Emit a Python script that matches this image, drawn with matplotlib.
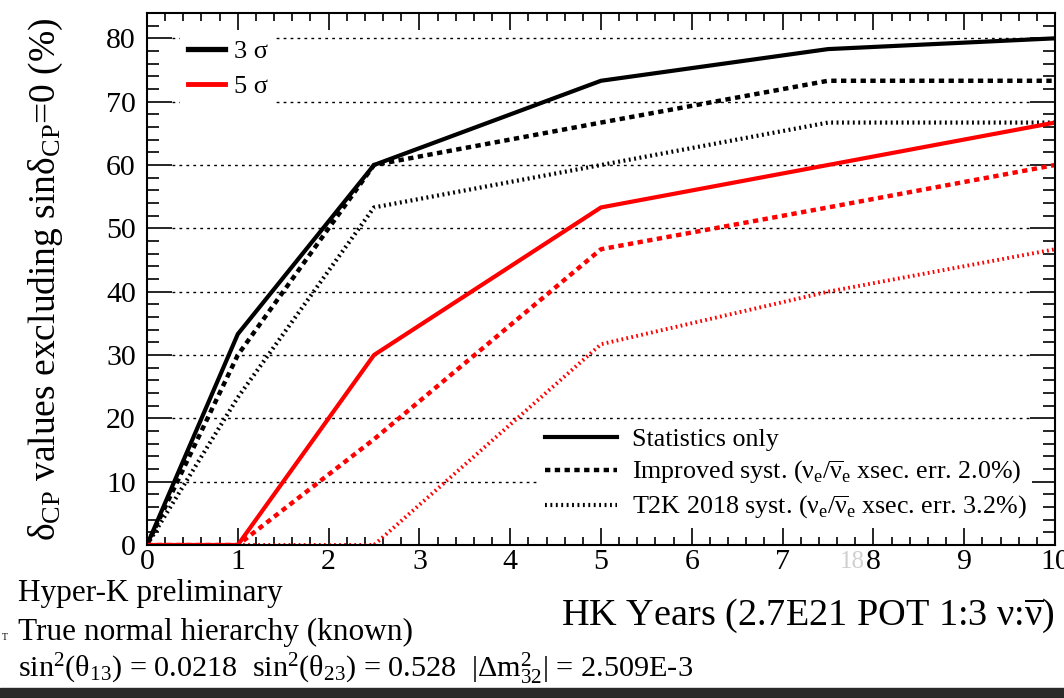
import matplotlib
matplotlib.use("Agg")
import numpy as np
import matplotlib.pyplot as plt
from matplotlib.lines import Line2D
from matplotlib.patches import Rectangle
from matplotlib.ticker import MultipleLocator

plt.rcParams['font.family'] = ['Liberation Serif', 'DejaVu Serif']
plt.rcParams['mathtext.fontset'] = 'custom'
plt.rcParams['mathtext.rm'] = 'Liberation Serif'
plt.rcParams['mathtext.it'] = 'Liberation Serif'
plt.rcParams['mathtext.default'] = 'regular'

# HK exposure in years
years = [0, 1, 2.5, 5, 7.5, 10]

# fraction of delta_CP values excluding sin(delta_CP)=0 (%)
sig3_stat = [0, 33.3, 60.0, 73.3, 78.3, 80.0]
sig3_improved = [0, 30.0, 60.0, 66.7, 73.3, 73.3]
sig3_t2k = [0, 23.3, 53.3, 60.0, 66.7, 66.7]
sig5_stat = [0, 0, 30.0, 53.3, 60.0, 66.7]
sig5_improved = [0, 0, 16.7, 46.7, 53.3, 60.0]
sig5_t2k = [0, 0, 0, 31.7, 40.0, 46.7]

fig = plt.figure(figsize=(10.64, 6.98), dpi=100)
ax = fig.add_axes([147/1064, 1 - 545/698, (1055 - 147)/1064, (545 - 13)/698])

dash = (0, (1.2, 1.0))
dot = (0, (0.45, 0.85))

ax.plot(years, sig3_stat, color='black', lw=3.0)
ax.plot(years, sig3_improved, color='black', lw=3.2, linestyle=dash)
ax.plot(years, sig3_t2k, color='black', lw=3.0, linestyle=dot)
ax.plot(years, sig5_stat, color='red', lw=3.0)
ax.plot(years, sig5_improved, color='red', lw=3.2, linestyle=dash)
ax.plot(years, sig5_t2k, color='red', lw=2.8, linestyle=dot)

ax.set_xlim(0, 10)
ax.set_ylim(0, 84)
ax.xaxis.set_major_locator(MultipleLocator(1))
ax.xaxis.set_minor_locator(MultipleLocator(0.2))
ax.yaxis.set_major_locator(MultipleLocator(10))
ax.yaxis.set_minor_locator(MultipleLocator(2))
ax.tick_params(axis='both', which='both', direction='in', top=True, right=True,
               labelsize=21.5, width=1.2)
ax.tick_params(axis='x', which='major', length=12, pad=3)
ax.tick_params(axis='x', which='minor', length=6)
ax.tick_params(axis='y', which='major', length=18, pad=8)
ax.tick_params(axis='y', which='minor', length=8.5)
for sp in ax.spines.values():
    sp.set_linewidth(1.5)

# dotted grid between the major ticks
ax.hlines(np.arange(10, 81, 10), 0.28, 9.72, color='black',
          linestyle=(0, (2, 3)), lw=1.0, zorder=0.5)

ax.set_ylabel(r'$\delta_{CP}$ values excluding sin$\delta_{CP}$=0 (%)', fontsize=27)
ax.yaxis.set_label_coords(-0.09, 0.5)
ax.set_xlabel(r'HK Years (2.7E21 POT 1:3 ν:$\overline{ν}$)', fontsize=27.5, ha='right')
ax.xaxis.set_label_coords(1.0, -0.097)

sig_handles = [Line2D([], [], color='black', lw=3.8), Line2D([], [], color='red', lw=3.5)]
leg1 = ax.legend(sig_handles, ['3 σ', '5 σ'], loc='upper left',
                 bbox_to_anchor=(0.036, 0.965), fontsize=19, frameon=True,
                 handlelength=1.4, handletextpad=0.35, labelspacing=0.45,
                 borderpad=0.3, borderaxespad=0, fancybox=False)
leg1.get_frame().set_edgecolor('none')
leg1.get_frame().set_facecolor('white')
leg1.get_frame().set_alpha(1)
ax.add_artist(leg1)

syst_handles = [Line2D([], [], color='black', lw=3.0),
                Line2D([], [], color='black', lw=3.2, linestyle=dash),
                Line2D([], [], color='black', lw=3.0, linestyle=dot)]
syst_labels = ['Statistics only',
               r'Improved syst. ($ν_{e}$/$\overline{ν}_{e}$ xsec. err. 2.0%)',
               r'T2K 2018 syst. ($ν_{e}$/$\overline{ν}_{e}$ xsec. err. 3.2%)']
leg2 = ax.legend(syst_handles, syst_labels, loc='lower right',
                 bbox_to_anchor=(0.975, 0.035), fontsize=18.7, frameon=True,
                 handlelength=2.75, handletextpad=0.6, labelspacing=0.3,
                 borderpad=0.2, borderaxespad=0, fancybox=False)
leg2.get_frame().set_edgecolor('none')
leg2.get_frame().set_facecolor('white')
leg2.get_frame().set_alpha(1)

# annotation text below the axes
fig.text(18/1064, 1 - 593/698, 'Hyper-K preliminary', fontsize=22.5, va='center')
fig.text(18/1064, 1 - 632/698, 'True normal hierarchy (known)', fontsize=22.5, va='center')
fig.text(18/1064, 1 - 668/698,
         r'sin$^2$(θ$_{13}$) = 0.0218  sin$^2$(θ$_{23}$) = 0.528  |Δm$^2_{32}$| = 2.509E-3',
         fontsize=21.8, va='center')
fig.text(2/1064, 1 - 637/698, 'T', fontsize=7, va='center')
fig.text(840/1064, 1 - 562/698, '18', fontsize=18, color='#d0d0d0', va='center')

fig.add_artist(Rectangle((0, 0), 1, 10/698, transform=fig.transFigure,
                         color='#2a2a2a', zorder=10))

fig.savefig('out.png', dpi=100)
